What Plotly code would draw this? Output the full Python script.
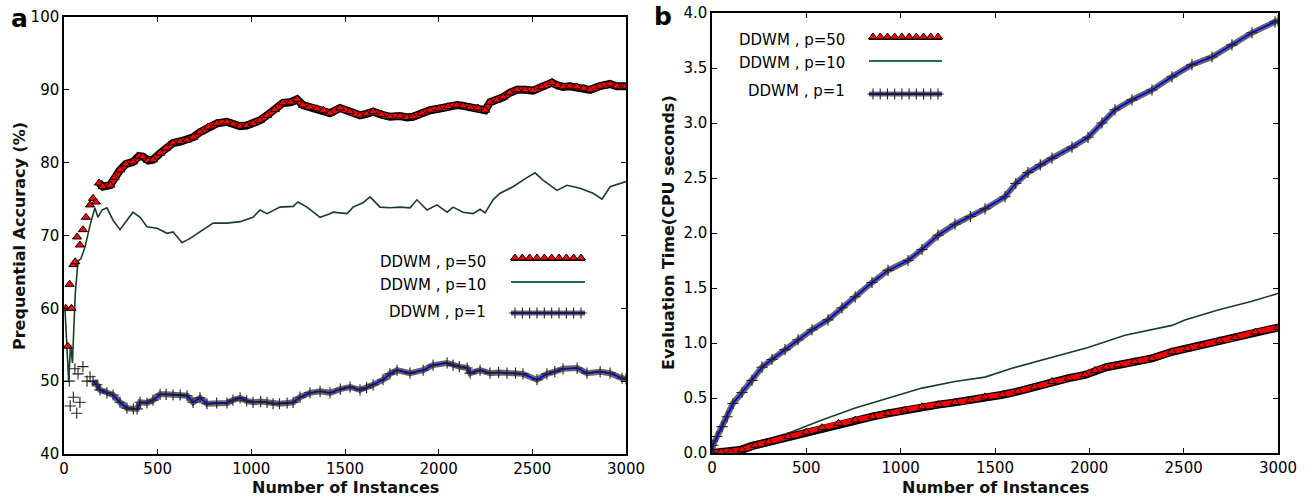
import plotly.graph_objects as go
import numpy as np

# ---------------- data ----------------
# Panel a: Prequential accuracy (%)
acc50_x = [10, 20, 30, 40, 50, 60, 70, 85, 101, 117, 139, 155, 170, 187, 208, 246, 270, 299, 330, 368,
           400, 422, 450, 475, 513, 545, 582, 620, 657, 690, 726, 770, 817, 870, 905, 940, 975, 1009,
           1045, 1084, 1125, 1169, 1210, 1244, 1276, 1310, 1351, 1385, 1420, 1474, 1525, 1580, 1615,
           1650, 1695, 1740, 1794, 1830, 1863, 1910, 1954, 2000, 2050, 2098, 2130, 2168, 2210, 2248,
           2274, 2310, 2344, 2380, 2418, 2460, 2504, 2550, 2605, 2635, 2664, 2700, 2739, 2775, 2808,
           2860, 2915, 2950, 2984, 3000]
acc50_y = [60, 54.8, 63.3, 60, 66, 66.4, 69.8, 68.7, 70.8, 72.5, 74.2, 75.1, 74.6, 77.2, 76.7, 76.9, 78,
           79, 79.8, 80.1, 80.9, 80.8, 80.3, 80.4, 81.3, 82, 82.7, 82.9, 83.1, 83.5, 84.2, 84.9, 85.4,
           85.6, 85.3, 85, 85.1, 85.4, 85.8, 86.5, 87.3, 88.2, 88.3, 88.7, 87.9, 87.6, 87.4, 87.2, 86.8,
           87.5, 87, 86.5, 86.7, 87, 86.6, 86.3, 86.4, 86.2, 86.3, 86.8, 87.2, 87.4, 87.7, 87.9, 87.8,
           87.6, 87.5, 87.2, 88.3, 88.6, 89, 89.6, 90, 90, 89.9, 90.4, 91, 90.6, 90.4, 90.5, 90.4, 90.2,
           90, 90.5, 90.8, 90.5, 90.4, 90.5]

acc10_x = [5, 15, 25, 35, 45, 60, 75, 90, 112, 140, 165, 181, 203, 229, 262, 299, 336, 368, 406, 443,
           497, 550, 582, 630, 673, 726, 796, 870, 940, 1009, 1046, 1084, 1153, 1223, 1249, 1297, 1367,
           1420, 1436, 1511, 1543, 1596, 1634, 1687, 1740, 1794, 1847, 1884, 1938, 1991, 2045, 2077,
           2130, 2184, 2221, 2248, 2290, 2328, 2397, 2450, 2514, 2557, 2632, 2685, 2755, 2824, 2872,
           2915, 2984, 3000]
acc10_y = [60, 54.5, 50, 55, 52.5, 62, 66.5, 66.8, 68.4, 71.5, 73.8, 72.5, 73.5, 73.8, 72.1, 70.8, 72.1,
           73.2, 72.5, 71.2, 71, 70.3, 70.5, 69, 69.6, 70.5, 71.7, 71.7, 71.9, 72.5, 73.5, 73, 73.9, 74,
           74.6, 73.9, 72.5, 73, 73.2, 73, 73.9, 74.5, 75.3, 73.9, 73.8, 73.9, 73.8, 74.9, 73.5, 74.2,
           73.2, 73.9, 73.2, 73, 73.6, 73.1, 74.9, 75.8, 76.7, 77.6, 78.6, 77.6, 76.2, 76.9, 76.5, 75.8,
           75, 76.7, 77.2, 77.4]

acc1_x = [28, 33, 50, 58, 68, 75, 85, 101, 123, 139, 155, 176, 192, 229, 262, 299, 336, 370, 390, 406,
          443, 475, 513, 545, 582, 620, 657, 689, 726, 763, 815, 870, 902, 940, 975, 1009, 1050, 1084,
          1116, 1150, 1191, 1223, 1260, 1313, 1367, 1420, 1475, 1527, 1580, 1615, 1650, 1703, 1740,
          1778, 1847, 1917, 1970, 2045, 2077, 2110, 2152, 2168, 2221, 2274, 2320, 2365, 2410, 2450,
          2525, 2578, 2620, 2664, 2739, 2792, 2862, 2915, 2979, 3000]
acc1_y = [50, 46.6, 47.8, 51.7, 45.6, 51, 47.1, 52, 50, 50.6, 50, 49.5, 48.8, 48.4, 48.1, 47.1, 46.3,
          46.2, 46.2, 47.1, 47, 47.4, 48.2, 48.2, 48.1, 48.1, 48, 47.1, 47.7, 46.9, 47, 47, 47.4, 47.7,
          47.3, 47.1, 47.2, 47.1, 46.9, 46.9, 47, 47.1, 47.8, 48.4, 48.6, 48.4, 48.9, 49.2, 48.8, 49.1,
          49.5, 50.2, 51, 51.5, 51.1, 51.5, 52.2, 52.5, 52.2, 52, 51.8, 51.1, 51.5, 51.1, 51.2, 51.1,
          51.1, 51, 50.2, 51, 51.3, 51.7, 51.8, 51.1, 51.3, 51.1, 50.4, 50.3]

# Panel b: Evaluation time (CPU seconds)
t50_x = [0, 50, 100, 159, 228, 300, 403, 500, 583, 670, 759, 850, 933, 1020, 1113, 1200, 1288, 1370,
         1447, 1540, 1622, 1710, 1802, 1890, 1977, 2030, 2090, 2152, 2240, 2332, 2438, 2520, 2597,
         2690, 2772, 2880, 3000]
t50_y = [0, 0.01, 0.01, 0.03, 0.07, 0.10, 0.15, 0.19, 0.23, 0.27, 0.30, 0.33, 0.36, 0.39, 0.42, 0.44,
         0.46, 0.48, 0.51, 0.53, 0.56, 0.60, 0.65, 0.68, 0.71, 0.75, 0.78, 0.80, 0.83, 0.86, 0.92,
         0.95, 0.98, 1.02, 1.05, 1.10, 1.14]

t10_x = [0, 100, 200, 300, 403, 583, 759, 933, 1113, 1288, 1447, 1590, 1802, 1993, 2189, 2438, 2507,
         2682, 2862, 3000]
t10_y = [0, 0.03, 0.09, 0.13, 0.18, 0.30, 0.41, 0.50, 0.59, 0.65, 0.69, 0.77, 0.87, 0.96, 1.07, 1.16,
         1.21, 1.30, 1.38, 1.45]

t1_x = [0, 5, 27, 53, 80, 111, 159, 212, 265, 318, 387, 456, 530, 615, 689, 759, 848, 933, 1039, 1113,
        1198, 1288, 1370, 1447, 1553, 1610, 1675, 1740, 1802, 1908, 1993, 2067, 2136, 2226, 2332, 2438,
        2544, 2650, 2756, 2862, 2984, 3000]
t1_y = [0, 0.07, 0.15, 0.24, 0.33, 0.45, 0.55, 0.66, 0.78, 0.85, 0.94, 1.03, 1.12, 1.21, 1.32, 1.42,
        1.55, 1.66, 1.75, 1.85, 1.98, 2.08, 2.15, 2.22, 2.33, 2.45, 2.55, 2.62, 2.68, 2.78, 2.87, 3.00,
        3.12, 3.21, 3.30, 3.42, 3.53, 3.60, 3.71, 3.82, 3.92, 3.93]

legend_labels = ["DDWM , p=50", "DDWM , p=10", "DDWM , p=1"]
x_ticks = [0, 500, 1000, 1500, 2000, 2500, 3000]
acc_ticks = [40, 50, 60, 70, 80, 90, 100]
time_ticks = [0.0, 0.5, 1.0, 1.5, 2.0, 2.5, 3.0, 3.5, 4.0]

# ---------------- style ----------------
W, H = 1315, 498
FONT = "DejaVu Sans"
RED = "#ff0000"
GREEN = "#1b3d24"
BLUE = "#0000ee"
BAND_GREY = "rgba(45,45,45,0.72)"


def pxx(x):
    return x / W


def pyy(y):
    return 1 - y / H


fig = go.Figure()


def add_red(xs, ys, xa, ya, band_from):
    bx = [x for x in xs if x >= band_from]
    by = [y for x, y in zip(xs, ys) if x >= band_from]
    fig.add_trace(go.Scatter(x=bx, y=by, mode="lines", line=dict(color="black", width=8),
                             xaxis=xa, yaxis=ya, hoverinfo="skip"))
    fig.add_trace(go.Scatter(x=bx, y=by, mode="lines", line=dict(color=RED, width=5),
                             xaxis=xa, yaxis=ya, hoverinfo="skip"))
    fig.add_trace(go.Scatter(x=xs, y=ys, mode="markers",
                             marker=dict(symbol="triangle-up", size=8, color=RED,
                                         line=dict(color="black", width=1)),
                             xaxis=xa, yaxis=ya))


def add_green(xs, ys, xa, ya):
    fig.add_trace(go.Scatter(x=xs, y=ys, mode="lines", line=dict(color=GREEN, width=1.6),
                             xaxis=xa, yaxis=ya))


def add_blue(xs, ys, xa, ya, band_from):
    bx = [x for x in xs if x >= band_from]
    by = [y for x, y in zip(xs, ys) if x >= band_from]
    fig.add_trace(go.Scatter(x=bx, y=by, mode="lines", line=dict(color=BAND_GREY, width=6),
                             xaxis=xa, yaxis=ya, hoverinfo="skip"))
    fig.add_trace(go.Scatter(x=bx, y=by, mode="lines", line=dict(color=BLUE, width=1.8),
                             xaxis=xa, yaxis=ya, hoverinfo="skip"))
    fig.add_trace(go.Scatter(x=xs, y=ys, mode="markers",
                             marker=dict(symbol="cross-thin-open", size=8, color="#222222",
                                         line=dict(color="#222222", width=1.1)),
                             xaxis=xa, yaxis=ya))


# panel a
add_blue(acc1_x, acc1_y, "x", "y", 150)
add_green(acc10_x, acc10_y, "x", "y")
add_red(acc50_x, acc50_y, "x", "y", 180)
# panel b
add_green(t10_x, t10_y, "x2", "y2")
add_red(t50_x, t50_y, "x2", "y2", 0)
add_blue(t1_x, t1_y, "x2", "y2", 0)

# ---------------- custom legends (drawn in pixel space on a hidden overlay axis) ----------------
legends = [
    # (text right edge, text y centres, sample x0, sample x1, sample y centres)
    (488, [262, 285, 312], 511, 585, [258, 282, 313]),
    (847, [40, 63, 91], 869, 942, [37, 61, 94]),
]
annotations = []
for tx, tys, sx0, sx1, sys_ in legends:
    for lab, ty in zip(legend_labels, tys):
        annotations.append(dict(x=pxx(tx), y=pyy(ty), xref="paper", yref="paper", text=lab,
                                showarrow=False, xanchor="right", yanchor="middle",
                                font=dict(family=FONT, size=15, color="black")))
    mx = list(np.linspace(sx0 + 4, sx1 - 4, 10))
    # p=50 sample
    fig.add_trace(go.Scatter(x=[sx0, sx1], y=[sys_[0] + 2, sys_[0] + 2], mode="lines",
                             line=dict(color="black", width=2), xaxis="x3", yaxis="y3"))
    fig.add_trace(go.Scatter(x=mx, y=[sys_[0]] * len(mx), mode="markers",
                             marker=dict(symbol="triangle-up", size=8, color=RED,
                                         line=dict(color="black", width=1)),
                             xaxis="x3", yaxis="y3"))
    # p=10 sample
    fig.add_trace(go.Scatter(x=[sx0, sx1], y=[sys_[1], sys_[1]], mode="lines",
                             line=dict(color="#2a6a48", width=2), xaxis="x3", yaxis="y3"))
    # p=1 sample
    fig.add_trace(go.Scatter(x=[sx0, sx1], y=[sys_[2], sys_[2]], mode="lines",
                             line=dict(color=BAND_GREY, width=5), xaxis="x3", yaxis="y3"))
    fig.add_trace(go.Scatter(x=[sx0, sx1], y=[sys_[2], sys_[2]], mode="lines",
                             line=dict(color=BLUE, width=1.8), xaxis="x3", yaxis="y3"))
    fig.add_trace(go.Scatter(x=mx, y=[sys_[2]] * len(mx), mode="markers",
                             marker=dict(symbol="cross-thin-open", size=8, color="#222222",
                                         line=dict(color="#222222", width=1.1)),
                             xaxis="x3", yaxis="y3"))

# axis titles & panel letters
titles = [
    dict(x=pxx(345), y=pyy(487), text="<b>Number of Instances</b>"),
    dict(x=pxx(995), y=pyy(487), text="<b>Number of Instances</b>"),
    dict(x=pxx(19), y=pyy(236), text="<b>Prequential Accuracy (%)</b>", textangle=-90),
    dict(x=pxx(668), y=pyy(233), text="<b>Evaluation Time(CPU seconds)</b>", textangle=-90),
]
for a in titles:
    a.update(xref="paper", yref="paper", showarrow=False, xanchor="center", yanchor="middle",
             font=dict(family=FONT, size=16, color="#111111"))
annotations += titles
annotations += [
    dict(x=pxx(19), y=pyy(18), text="<b>a</b>", xref="paper", yref="paper", showarrow=False,
         xanchor="center", yanchor="middle", font=dict(family=FONT, size=25, color="black")),
    dict(x=pxx(663), y=pyy(17), text="<b>b</b>", xref="paper", yref="paper", showarrow=False,
         xanchor="center", yanchor="middle", font=dict(family=FONT, size=25, color="black")),
]

axis_common = dict(showline=True, linecolor="black", linewidth=1.5, mirror="ticks", ticks="inside",
                   ticklen=5, tickwidth=1.2, tickcolor="black", showgrid=False, zeroline=False,
                   automargin=False, tickfont=dict(family=FONT, size=15, color="black"))

fig.update_layout(
    width=W, height=H, margin=dict(l=0, r=0, t=0, b=0, autoexpand=False),
    paper_bgcolor="white", plot_bgcolor="rgba(0,0,0,0)", showlegend=False,
    xaxis=dict(domain=[pxx(64), pxx(626)], range=[0, 3000], tickvals=x_ticks, anchor="y", **axis_common),
    yaxis=dict(domain=[pyy(454), pyy(17)], range=[40, 100], tickvals=acc_ticks, anchor="x", **axis_common),
    xaxis2=dict(domain=[pxx(712), pxx(1278)], range=[0, 3000], tickvals=x_ticks, anchor="y2", **axis_common),
    yaxis2=dict(domain=[pyy(453), pyy(13)], range=[0, 4], tickvals=time_ticks, tickformat=".1f",
                anchor="x2", **axis_common),
    xaxis3=dict(domain=[0, 1], range=[0, W], visible=False, showticklabels=False, automargin=False,
                anchor="y3", fixedrange=True),
    yaxis3=dict(domain=[0, 1], range=[H, 0], visible=False, showticklabels=False, automargin=False,
                anchor="x3", fixedrange=True),
    annotations=annotations,
)

fig.write_html("out.html")
